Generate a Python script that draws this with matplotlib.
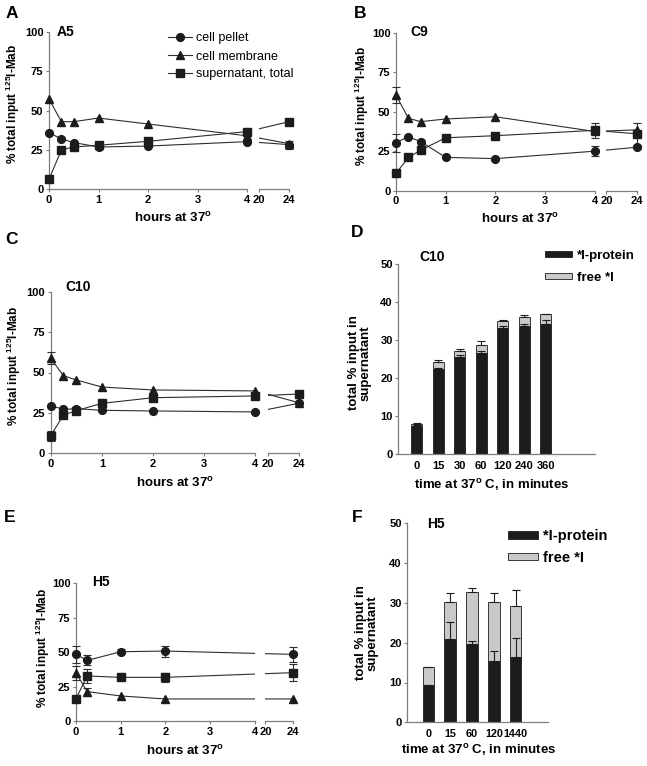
import numpy as np
import matplotlib
matplotlib.use('Agg')
import matplotlib.pyplot as plt
from matplotlib.patches import Patch

plt.rcParams.update({
    'font.family': ['Liberation Sans', 'DejaVu Sans'],
    'font.weight': 'bold',
    'axes.labelweight': 'bold',
    'mathtext.fontset': 'custom',
    'mathtext.rm': 'Liberation Sans:bold',
    'mathtext.it': 'Liberation Sans:bold:italic',
    'mathtext.bf': 'Liberation Sans:bold',
})

# ---------------- data ----------------
t_main = [0, 0.25, 0.5, 1, 2, 4, 24]
x_ticks = [0, 1, 2, 3, 4, 20, 24]
x_ticklabels = ['0', '1', '2', '3', '4', '20', '24']
series_names = ['cell pellet', 'cell membrane', 'supernatant, total']

A_pellet = [36.0, 32.0, 29.7, 26.9, 27.5, 30.3, 28.4]
A_membrane = [57.4, 43.0, 43.0, 45.3, 41.5, 34.0, 29.0]
A_super = [6.4, 25.0, 26.9, 28.0, 30.5, 36.7, 43.0]
A_pellet_err = [0, 0, 0, 0, 0, 0, 2.5]
A_membrane_err = [0, 0, 0, 0, 0, 0, 0]
A_super_err = [0, 0, 0, 0, 0, 0, 0]

B_pellet = [30.4, 34.2, 31.0, 21.1, 20.3, 25.0, 27.5]
B_membrane = [60.5, 45.8, 43.7, 45.4, 46.8, 37.5, 38.5]
B_super = [11.0, 21.1, 25.7, 33.5, 34.8, 38.2, 36.0]
B_pellet_err = [5.8, 0, 0, 0, 0, 3.0, 0]
B_membrane_err = [5.0, 0, 0, 0, 0, 0, 0]
B_super_err = [0, 0, 0, 0, 0, 4.7, 7.0]

C_pellet = [29.5, 27.2, 27.6, 26.6, 26.2, 25.6, 31.0]
C_membrane = [58.8, 48.0, 45.4, 41.0, 39.2, 38.6, 31.3]
C_super = [10.9, 23.7, 26.4, 30.9, 34.4, 35.5, 36.7]
C_pellet_err = [0, 0, 0, 0, 0, 0, 0]
C_membrane_err = [3.7, 0, 0, 0, 0, 0, 0]
C_super_err = [3.0, 0, 0, 0, 0, 0, 0]

t_E = [0, 0.25, 1, 2, 24]
E_pellet = [48.4, 44.0, 50.3, 50.8, 48.4]
E_membrane = [35.0, 21.3, 18.2, 16.0, 16.0]
E_super = [16.2, 32.7, 31.7, 31.7, 35.1]
E_pellet_err = [6.0, 3.6, 2.0, 4.0, 5.6]
E_membrane_err = [5.0, 3.0, 0, 0, 0]
E_super_err = [0, 4.9, 1.0, 3.5, 6.0]

D_cats = ['0', '15', '30', '60', '120', '240', '360']
D_protein = [7.4, 22.4, 25.6, 26.5, 33.2, 33.7, 34.2]
D_free = [0.6, 1.9, 1.6, 2.2, 1.8, 2.4, 2.6]
D_total_err = [0.1, 0.4, 0.5, 1.0, 0.2, 0.4, 0.1]
D_protein_err = [0.2, 0.3, 0.5, 0.5, 0.6, 0.4, 1.1]

F_cats = ['0', '15', '60', '120', '1440']
F_protein = [9.4, 20.9, 19.7, 15.5, 16.5]
F_free = [4.6, 9.4, 13.1, 14.7, 12.8]
F_total_err = [0.0, 2.3, 0.9, 2.2, 3.9]
F_protein_err = [0.0, 4.4, 0.8, 2.4, 4.8]

bar_labels = ['*I-protein', 'free *I']

# ---------------- style ----------------
W, H = 647, 766
SPINE = '#7d7d7d'
INK = '#1c1c1c'
LINE = '#2e2e2e'
GRAY = '#c9c9c9'

fig = plt.figure(figsize=(W / 100, H / 100), dpi=100)


def fx(x):
    return x / W


def fy(y):
    return 1 - y / H


def px_axes(l, r, t, b):
    return fig.add_axes([l / W, 1 - b / H, (r - l) / W, (b - t) / H])


G = 0.24
R = 0.1525


def fwd(t):
    t = np.asarray(t, dtype=float)
    return np.where(t <= 4, t, np.where(t >= 20, 4 + G + (t - 20) * R, 4 + (t - 4) * G / 16))


def inv(u):
    u = np.asarray(u, dtype=float)
    return np.where(u <= 4, u, np.where(u >= 4 + G, 20 + (u - 4 - G) / R, 4 + (u - 4) * 16 / G))


YLAB = '% total input $\\mathregular{^{125}}$I-Mab'
XLAB = 'hours at 37$\\mathregular{^{o}}$'


def style_ticks(ax):
    ax.tick_params(direction='out', length=2.5, width=0.8, color=SPINE,
                   labelsize=8, pad=1.5, top=False, right=False, labelcolor='black')
    for s in ('left', 'bottom', 'top'):
        ax.spines[s].set_color(SPINE)
        ax.spines[s].set_linewidth(0.9)
    ax.spines['right'].set_visible(False)


def line_panel(box, t, ys, errs, title, title_xy, ylab_xy, xlab_xy, legend_xy=None):
    l, r, top, b = box
    ax = px_axes(*box)
    ax.set_xscale('function', functions=(fwd, inv))
    ax.set_xlim(0, 24)
    ax.set_ylim(0, 100)
    markers = [('o', 5.6), ('^', 5.6), ('s', 5.2)]
    for y in ys:
        ax.plot(t, y, '-', color=LINE, lw=0.8, zorder=2)
    ax.axvspan(4, 20, color='white', lw=0, zorder=2.4)
    handles = []
    for y, e, (mk, ms), name in zip(ys, errs, markers, series_names):
        tt = [a for a, ee in zip(t, e) if ee > 0]
        yy = [a for a, ee in zip(y, e) if ee > 0]
        ee = [v for v in e if v > 0]
        if ee:
            eb = ax.errorbar(tt, yy, yerr=ee, fmt='none', ecolor=LINE, elinewidth=0.8,
                             capsize=3.2, capthick=0.8, zorder=3)
            for ch in eb.get_children():
                ch.set_clip_on(False)
        m, = ax.plot(t, y, ls='none', marker=mk, ms=ms, color=INK, zorder=4, clip_on=False)
        ln, = ax.plot([], [], '-', color=LINE, lw=0.8)
        handles.append(((ln, m), name))
    ax.set_xticks(x_ticks)
    ax.set_xticklabels(x_ticklabels)
    ax.set_yticks([0, 25, 50, 75, 100])
    style_ticks(ax)
    ax.spines['bottom'].set_bounds(0, 4)
    ax.spines['top'].set_position(('axes', 0.0))
    ax.spines['top'].set_bounds(20, 24)
    ax.minorticks_off()
    # labels
    ax.set_ylabel(YLAB, fontsize=8.5)
    ax.yaxis.label.set_va('center')
    ax.yaxis.set_label_coords((ylab_xy[0] - l) / (r - l), (b - ylab_xy[1]) / (b - top))
    ax.set_xlabel(XLAB, fontsize=9.5)
    ax.xaxis.label.set_va('center')
    ax.xaxis.set_label_coords((xlab_xy[0] - l) / (r - l), (b - xlab_xy[1]) / (b - top))
    fig.text(fx(title_xy[0]), fy(title_xy[1]), title, ha='left', va='center', fontsize=10)
    if legend_xy is not None:
        ax.legend([h for h, _ in handles], [n for _, n in handles],
                  loc='upper left', bbox_to_anchor=(fx(legend_xy[0]), fy(legend_xy[1])),
                  bbox_transform=fig.transFigure, frameon=False,
                  prop={'weight': 'normal', 'size': 9},
                  borderpad=0, borderaxespad=0, handletextpad=0.25, handlelength=1.95,
                  labelspacing=0.48)
    return ax


def bar_panel(box, cats, prot, free, tot_err, prot_err, xlim, title, title_xy,
              ylab_xy, xlab_xy, legend_xy, lfs, hh, ls, xtick_fs):
    l, r, top, b = box
    ax = px_axes(*box)
    pos = np.arange(len(cats))
    prot = np.asarray(prot)
    free = np.asarray(free)
    total = prot + free
    w = 0.52
    ax.bar(pos, prot, w, color=INK, edgecolor=INK, lw=0.6, zorder=2)
    ax.bar(pos, free, w, bottom=prot, color=GRAY, edgecolor=INK, lw=0.6, zorder=2)
    z = np.zeros(len(cats))
    ax.errorbar(pos, total, yerr=[z, tot_err], fmt='none', ecolor=INK, elinewidth=0.8,
                capsize=3.2, capthick=0.8, zorder=3)
    ax.errorbar(pos, prot, yerr=[z, prot_err], fmt='none', ecolor=INK, elinewidth=0.8,
                capsize=3.2, capthick=0.8, zorder=3)
    ax.set_xlim(*xlim)
    ax.set_ylim(0, 50)
    ax.set_yticks([0, 10, 20, 30, 40, 50])
    ax.set_xticks(pos)
    ax.set_xticklabels(cats)
    style_ticks(ax)
    ax.spines['top'].set_visible(False)
    ax.tick_params(axis='x', length=0, pad=5, labelsize=xtick_fs)
    ax.set_ylabel('total % input in\nsupernatant', fontsize=9.5, linespacing=1.0)
    ax.yaxis.label.set_va('center')
    ax.yaxis.set_label_coords((ylab_xy[0] - l) / (r - l), (b - ylab_xy[1]) / (b - top))
    ax.set_xlabel('time at 37$\\mathregular{^{o}}$ C, in minutes', fontsize=9.5)
    ax.xaxis.label.set_va('center')
    ax.xaxis.set_label_coords((xlab_xy[0] - l) / (r - l), (b - xlab_xy[1]) / (b - top))
    fig.text(fx(title_xy[0]), fy(title_xy[1]), title, ha='left', va='center', fontsize=10)
    hs = [Patch(facecolor=INK, edgecolor=INK, lw=0.6), Patch(facecolor=GRAY, edgecolor=INK, lw=0.6)]
    ax.legend(hs, bar_labels, loc='upper left',
              bbox_to_anchor=(fx(legend_xy[0]), fy(legend_xy[1])),
              bbox_transform=fig.transFigure, frameon=False, fontsize=lfs,
              borderpad=0, borderaxespad=0, handletextpad=0.35, handlelength=2.05,
              handleheight=hh, labelspacing=ls)
    return ax


line_panel((49, 289.3, 32, 189.3), t_main, [A_pellet, A_membrane, A_super],
           [A_pellet_err, A_membrane_err, A_super_err], 'A5', (56.7, 32.5),
           (13, 104), (172.8, 217.5), legend_xy=(168, 32.5))
line_panel((396, 636.7, 32.7, 190.7), t_main, [B_pellet, B_membrane, B_super],
           [B_pellet_err, B_membrane_err, B_super_err], 'C9', (410.7, 32.5),
           (362, 106), (519.8, 218.5))
line_panel((50.7, 299, 291.7, 453.3), t_main, [C_pellet, C_membrane, C_super],
           [C_pellet_err, C_membrane_err, C_super_err], 'C10', (65, 286.7),
           (14, 366), (175.3, 483.3))
line_panel((76, 292.7, 583.3, 721), t_E, [E_pellet, E_membrane, E_super],
           [E_pellet_err, E_membrane_err, E_super_err], 'H5', (91.7, 581.7),
           (43, 648), (184.8, 751))

bar_panel((398.3, 595, 264, 454), D_cats, D_protein, D_free, D_total_err, D_protein_err,
          (-0.856, 8.29), 'C10', (419.3, 256.7), (360, 363), (491.7, 485),
          (545, 249.5), 9.5, 0.33, 0.8, 8)
bar_panel((407.3, 547.7, 523.3, 722.3), F_cats, F_protein, F_free, F_total_err, F_protein_err,
          (-0.96, 5.46), 'H5', (426.7, 523.8), (367, 633), (479, 750),
          (508, 529), 10.5, 0.45, 0.53, 7.8)

for letter, (x, y) in zip('ABCDEF', [(11.7, 13.8), (360, 14), (11, 239), (357.5, 232.5),
                                     (10, 517), (357, 517)]):
    fig.text(fx(x), fy(y), letter, ha='center', va='center', fontsize=12.5)

fig.savefig('out.png', dpi=100)
